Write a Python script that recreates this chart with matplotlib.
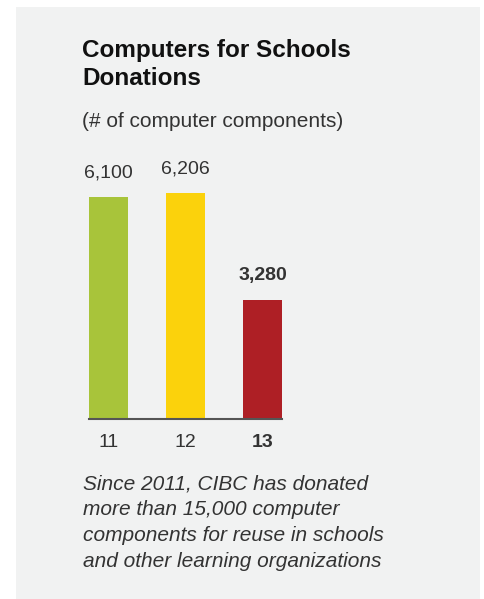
import matplotlib.pyplot as plt
from matplotlib.patches import Rectangle

plt.rcParams['font.family'] = ['Liberation Sans', 'DejaVu Sans']

years = ['11', '12', '13']
donations = [6100, 6206, 3280]
colors = ['#a8c43a', '#fbd20c', '#ae1f25']
title = 'Computers for Schools\nDonations'
subtitle = '(# of computer components)'
note = ('Since 2011, CIBC has donated\nmore than 15,000 computer\n'
        'components for reuse in schools\nand other learning organizations')

W, H = 484, 599
fig = plt.figure(figsize=(W / 100, H / 100), dpi=100)
fig.patch.set_facecolor('white')

# fondo gris del panel
fig.add_artist(Rectangle((16 / W, 0), (480 - 16) / W, (H - 7) / H,
                         transform=fig.transFigure, facecolor='#f1f2f2',
                         edgecolor='none', zorder=-5))

txt = '#333333'
fig.text(82 / W, 1 - 39 / H, title, fontsize=17.5, fontweight='bold',
         color='#111111', va='top', ha='left', linespacing=1.27)
fig.text(82 / W, 1 - 112 / H, subtitle, fontsize=15, color=txt,
         va='top', ha='left')

ax = fig.add_axes([89 / W, (H - 419) / H, 193 / W, 255 / H], zorder=2)
ax.set_facecolor('none')
x = range(len(years))
ax.bar(x, donations, width=0.506, color=colors, zorder=2)
ax.set_xlim(-0.253, 2.253)
ax.set_ylim(0, 7000)

for i, v in enumerate(donations):
    bold = i == len(donations) - 1
    ax.annotate(f'{v:,}', (i, v), xytext=(0, 11), textcoords='offset points',
                ha='center', va='bottom', fontsize=14, color=txt,
                fontweight='bold' if bold else 'normal')

ax.set_xticks(list(x))
ax.set_xticklabels(years, fontsize=14, color=txt)
ax.get_xticklabels()[-1].set_fontweight('bold')
ax.tick_params(axis='x', length=0, pad=11)
ax.set_yticks([])
for s in ['top', 'right', 'left']:
    ax.spines[s].set_visible(False)
ax.spines['bottom'].set_color('#555555')
ax.spines['bottom'].set_linewidth(1.5)

fig.text(83 / W, 1 - 474 / H, note, fontsize=15, style='italic', color=txt,
         va='top', ha='left', linespacing=1.46)

fig.savefig('out.png', dpi=100)
